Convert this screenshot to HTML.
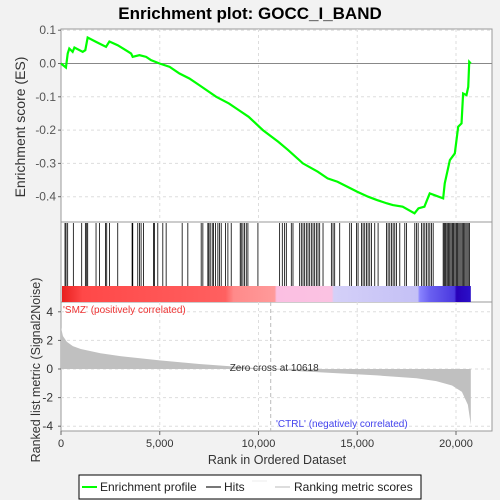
<!DOCTYPE html>
<html><head><meta charset="utf-8"><style>
body{margin:0;background:#f2f2f2;}
svg{display:block;font-family:"Liberation Sans",sans-serif;}
</style></head><body>
<svg id="c" width="500" height="500"></svg>
<script>
const esRanks=[0,250,340,420,590,680,1100,1230,1350,1775,2280,2450,2870,3550,3630,3970,4310,4560,4990,5500,6000,6500,7000,7860,8500,9000,9500,10220,11000,11500,12250,13000,13500,14000,14500,15000,15550,16000,16500,16800,17300,17900,18100,18400,18670,18900,19350,19430,19690,19940,20110,20280,20360,20530,20620,20670,20750];
const esValues=[0,-0.012,0.03,0.045,0.035,0.048,0.035,0.04,0.078,0.065,0.05,0.066,0.055,0.03,0.02,0.025,0.02,0.01,0,-0.01,-0.03,-0.045,-0.065,-0.1,-0.12,-0.14,-0.16,-0.2,-0.235,-0.26,-0.3,-0.325,-0.345,-0.355,-0.37,-0.385,-0.4,-0.41,-0.42,-0.425,-0.43,-0.45,-0.435,-0.43,-0.39,-0.395,-0.405,-0.36,-0.29,-0.27,-0.19,-0.18,-0.09,-0.095,-0.07,0.005,0];
const hitRanks=[203,254,338,625,1048,1234,1301,1352,1774,1944,2248,2315,2451,2873,3600,3634,3887,3972,4056,4174,4681,4732,4901,5155,5324,6135,6422,7098,7183,7436,7487,7554,7656,7723,7825,7943,8028,8112,8332,8450,8619,9075,9126,9211,9295,9380,9464,9971,11070,11205,11323,11408,11661,11746,12084,12168,12253,12337,12422,12506,12591,12675,12760,12844,12929,13013,13098,13267,13689,13774,13858,14112,14619,14703,14957,15041,15210,15295,15379,15464,15548,15633,15717,15886,16055,16478,16562,16647,16731,16816,16900,16985,17154,17407,17492,17914,17999,18083,18252,18337,18421,18506,18590,18675,18759,18844,19350,19400,19450,19500,19560,19620,19680,19740,19800,19850,19900,19960,20020,20080,20140,20200,20260,20320,20380,20440,20500,20560,20620,20680];
const metricRanks=[0,100,300,600,1000,2000,3000,5000,7000,9000,10618,12000,14000,16000,18000,19000,19800,20300,20600,20750];
const metricValues=[2.9,2.3,1.9,1.6,1.4,1.1,0.9,0.6,0.35,0.15,0,-0.15,-0.3,-0.45,-0.65,-0.85,-1.15,-1.6,-2.5,-3.9];
const esTicks=[0.1,0,-0.1,-0.2,-0.3,-0.4];
const esTickLabels=["0.1","0.0","-0.1","-0.2","-0.3","-0.4"];
const mTicks=[4,2,0,-2,-4];
const xTicks=[0,5000,10000,15000,20000];
const xTickLabels=["0","5,000","10,000","15,000","20,000"];

const L=61,R=492;
const X=r=>L+r*0.01975;
const YE=v=>63.5-v*333;
const YM=v=>369-v*14.3;
const svg=document.getElementById('c');
const NS='http://www.w3.org/2000/svg';
function mk(t,a,p){const e=document.createElementNS(NS,t);for(const k in a)e.setAttribute(k,a[k]);(p||svg).appendChild(e);return e;}
function txt(s,a,name){const e=mk('text',a);e.textContent=s;return e;}

txt('Enrichment plot: GOCC_I_BAND',{x:250,y:19,'text-anchor':'middle','font-size':17,'font-weight':'bold'},'chart-title');
// panels
let p1=mk('rect',{x:L,y:29,width:R-L,height:193,fill:'#fff',stroke:'#999'});

let p2=mk('rect',{x:L,y:222,width:R-L,height:80,fill:'#fff',stroke:'#999'});

let p3=mk('rect',{x:L,y:302,width:R-L,height:129,fill:'#fff',stroke:'#999'});

// grid
xTicks.forEach((t,i)=>{if(i>0){mk('line',{x1:X(t),x2:X(t),y1:29,y2:222,stroke:'#ddd','stroke-dasharray':'3,3'});mk('line',{x1:X(t),x2:X(t),y1:302,y2:431,stroke:'#ddd','stroke-dasharray':'3,3'});}
 mk('line',{x1:X(t),x2:X(t),y1:431,y2:435,stroke:'#666'});
 txt(xTickLabels[i],{x:X(t),y:447,'text-anchor':'middle','font-size':11,fill:'#333'},'x-tick-label');});
esTicks.forEach((t,i)=>{mk('line',{x1:L,x2:R,y1:YE(t),y2:YE(t),stroke:t===0?'#888':'#ddd','stroke-dasharray':t===0?'':'3,3'});
 mk('line',{x1:L-3,x2:L,y1:YE(t),y2:YE(t),stroke:'#666'});
 txt(esTickLabels[i],{x:L-5,y:YE(t)+4,'text-anchor':'end','font-size':12,fill:'#555'},'es-tick-label');});
mTicks.forEach(t=>{mk('line',{x1:L,x2:R,y1:YM(t),y2:YM(t),stroke:'#ddd','stroke-dasharray':'3,3'});
 mk('line',{x1:L-3,x2:L,y1:YM(t),y2:YM(t),stroke:'#666'});
 txt(String(t),{x:L-8,y:YM(t)+4,'text-anchor':'end','font-size':12,fill:'#333'},'metric-tick-label');});
// color bar
const defs=mk('defs',{});
const g=mk('linearGradient',{id:'cb',x1:0,x2:1,y1:0,y2:0},defs);
[[0,'#e8201e'],[0.05,'#ff4848'],[0.4,'#ff6060'],[0.42,'#ff8a8a'],[0.52,'#ff9a9a'],[0.525,'#fbbfe2'],[0.66,'#fbc2e2'],[0.665,'#d4d0f8'],[0.87,'#c4c0f6'],[0.875,'#8a84ff'],[0.9,'#6a60f0'],[0.96,'#4a38e0'],[0.965,'#2800b8'],[1,'#2a10c8']].forEach(s=>mk('stop',{offset:s[0],'stop-color':s[1]},g));
let cb=mk('rect',{x:L+1,y:286,width:X(20750)-L-1,height:16,fill:'url(#cb)'});

// hits
hitRanks.forEach(r=>{const l=mk('line',{x1:X(r),x2:X(r),y1:223,y2:286,stroke:'#000','stroke-width':0.8});
 });
// metric area
let d='M'+X(metricRanks[0])+','+YM(0);
metricRanks.forEach((r,i)=>d+=' L'+X(r)+','+YM(metricValues[i]));
d+=' L'+X(metricRanks[metricRanks.length-1])+','+YM(0)+'Z';
let ma=mk('path',{d:d,fill:'#c0c0c0'});

mk('line',{x1:X(10618),x2:X(10618),y1:302,y2:431,stroke:'#bbb','stroke-dasharray':'4,3'});
txt('Zero cross at 10618',{x:X(10618)-41,y:371,'font-size':10,fill:'#333'},'zero-cross-label');
txt("'SMZ' (positively correlated)",{x:63,y:313,'font-size':10,fill:'#e33'},'positive-label');
txt("'CTRL' (negatively correlated)",{x:276,y:427,'font-size':10,fill:'#44e'},'negative-label');
// ES line
let pd='';esRanks.forEach((r,i)=>pd+=(i?' L':'M')+X(r)+','+YE(esValues[i]));
let el=mk('path',{d:pd,fill:'none',stroke:'#00ff00','stroke-width':2.2});

// axis titles
txt('Enrichment score (ES)',{x:0,y:0,transform:'translate(25,127) rotate(-90)','text-anchor':'middle','font-size':14,fill:'#333'},'es-axis-title');
txt('Ranked list metric (Signal2Noise)',{x:0,y:0,transform:'translate(40,370) rotate(-90)','text-anchor':'middle','font-size':12.5,fill:'#333'},'metric-axis-title');
txt('Rank in Ordered Dataset',{x:277,y:464,'text-anchor':'middle','font-size':12.5,fill:'#333'},'x-axis-title');
// legend
let lg=mk('rect',{x:79,y:475,width:342,height:24,fill:'#fff',stroke:'#000'});

mk('line',{x1:82,x2:97,y1:487,y2:487,stroke:'#00ff00','stroke-width':2});
txt('Enrichment profile',{x:100,y:491,'font-size':12,fill:'#222'},'legend-enrichment-profile');
mk('line',{x1:206,x2:221,y1:487,y2:487,stroke:'#777','stroke-width':2});
txt('Hits',{x:224,y:491,'font-size':12,fill:'#222'},'legend-hits');
mk('line',{x1:252,x2:267,y1:481,y2:481,stroke:'#eee','stroke-width':1});
mk('line',{x1:275,x2:290,y1:487,y2:487,stroke:'#ddd','stroke-width':2});
txt('Ranking metric scores',{x:294,y:491,'font-size':12,fill:'#222'},'legend-ranking-metric');
</script>
</body></html>
